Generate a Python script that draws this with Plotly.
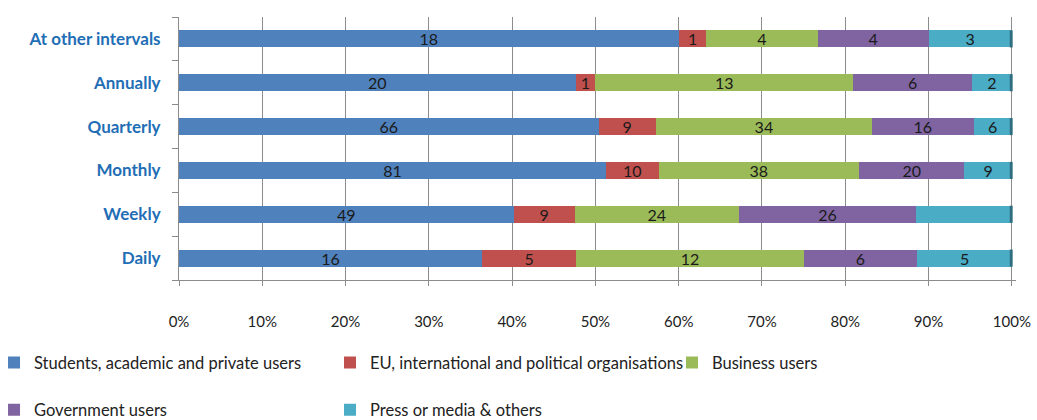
import plotly.graph_objects as go

categories = ["Daily", "Weekly", "Monthly", "Quarterly", "Annually", "At other intervals"]
series_names = [
    "Students, academic and private users",
    "EU, international and political organisations",
    "Business users",
    "Government users",
    "Press or media & others",
]
students = [16, 49, 81, 66, 20, 18]
eu_orgs = [5, 9, 10, 9, 1, 1]
business = [12, 24, 38, 34, 13, 4]
government = [6, 26, 20, 16, 6, 4]
press = [5, 14, 9, 6, 2, 3]
# label hidden in the original for Weekly / Press
hidden_labels = {("Press or media & others", "Weekly")}

colors = ["#4F81BD", "#C0504D", "#9BBB59", "#8064A2", "#4BACC6"]
all_values = [students, eu_orgs, business, government, press]

FONT = "Lato, 'Liberation Sans', sans-serif"

# legend placement: x in paper fraction, y in container fraction; two rows
legend_pos = [(-0.221, 0.136), (0.1804, 0.136), (0.589, 0.136),
              (-0.221, 0.024), (0.1804, 0.024)]
legend_ids = ["legend", "legend2", "legend3", "legend4", "legend5"]

fig = go.Figure()
for i, (name, vals, col) in enumerate(zip(series_names, all_values, colors)):
    texts = ["" if (name, c) in hidden_labels else str(v) for v, c in zip(vals, categories)]
    fig.add_trace(go.Bar(
        y=categories, x=vals, name=name, orientation="h",
        marker=dict(color=col, line=dict(width=0)),
        text=texts, textposition="inside", insidetextanchor="middle",
        textangle=0, constraintext="none",
        textfont=dict(family=FONT, size=16, color="#1a1a1a"),
        legend=legend_ids[i],
        hoverinfo="x+y+name",
    ))

# dark 3D end-cap at the 100% end of each bar
for c in categories:
    fig.add_shape(type="rect", xref="x", yref="y", x0=99.75, x1=100.1,
                  y0=categories.index(c) - 0.195, y1=categories.index(c) + 0.195,
                  fillcolor="#2E6E80", line=dict(width=0), layer="above")

legend_layout = {}
for lid, (lx, ly) in zip(legend_ids, legend_pos):
    legend_layout[lid] = dict(
        orientation="h", xref="paper", yref="container",
        x=lx, y=ly, xanchor="left", yanchor="middle",
        font=dict(family=FONT, size=16.5, color="#222"),
        bgcolor="rgba(0,0,0,0)", borderwidth=0,
    )

fig.update_layout(
    barmode="stack", barnorm="percent", bargap=0.61,
    width=1037, height=420,
    margin=dict(l=179, r=21, t=17, b=140, autoexpand=False),
    paper_bgcolor="white", plot_bgcolor="white",
    font=dict(family=FONT, size=15, color="#222"),
    showlegend=True,
    **legend_layout,
)

fig.update_xaxes(
    range=[0, 100.5], tickvals=list(range(0, 101, 10)),
    ticktext=[f"{v}%" for v in range(0, 101, 10)],
    showgrid=True, gridcolor="#8C8C8C", gridwidth=1,
    showline=True, linecolor="#8C8C8C", linewidth=1,
    ticks="outside", ticklen=5, tickcolor="#8C8C8C",
    ticklabelstandoff=23,
    tickfont=dict(family=FONT, size=15, color="#222"),
    zeroline=False, fixedrange=True,
)
fig.update_yaxes(
    categoryorder="array", categoryarray=categories,
    showline=True, linecolor="#8C8C8C", linewidth=1,
    ticks="outside", ticklen=6, tickcolor="#8C8C8C", tickson="boundaries",
    ticklabelstandoff=14,
    tickfont=dict(family=FONT, size=17, color="#1F6EB5", weight="bold"),
    showgrid=False, fixedrange=True,
)

fig.write_html("out.html")
